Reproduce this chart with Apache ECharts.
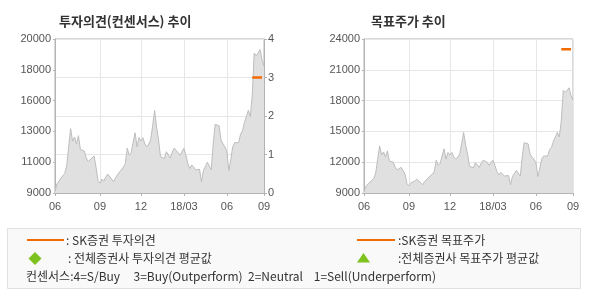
<!DOCTYPE html>
<html><head><meta charset="utf-8">
<script src="https://cdn.jsdelivr.net/npm/echarts@6/dist/echarts.min.js"></script>
<style>html,body{margin:0;padding:0;background:#fff}#c{width:590px;height:300px}</style>
</head><body><div id="c"></div>
<script>
// Stock price (close), sampled along trading days
const priceData = [9100,9650,9700,10050,10100,10400,10950,12300,13600,12700,
13000,12500,13100,12100,12050,12000,11500,11250,11300,11500,
11650,10850,9900,9700,10000,9850,10150,10350,10400,10000,
9800,10100,10200,10500,10650,10850,11100,12200,11700,11900,
12000,13300,12300,12950,12700,12950,12500,12300,12500,12800,
13800,14900,13700,12800,11600,11700,11450,11950,11850,11500,
11900,12200,12050,12000,11700,11800,12200,11700,11100,10750,
11000,10850,10650,10600,10700,9800,10600,10900,11200,11100,
10650,12500,13900,14000,13800,12800,12500,12300,11950,10600,
11400,12300,12600,12550,12600,13200,13450,14050,14000,14900,
14450,16000,19000,18800,19000,19250,18500,18050];
// SK증권 opinion (right axis, 4=S/Buy ... 1=Sell) and target price
const opinionData = priceData.map((_, i) => (i >= 101 && i <= 106) ? 3 : null);
const targetData = priceData.map((_, i) => (i >= 101 && i <= 106) ? 23000 : null);
const categories = priceData.map((_, i) => String(i));
const tickIndex = [0, 23, 44, 66, 88, 107];
const tickLabels = ['06', '09', '12', '18/03', '06', '09'];
const leftTitle = '투자의견(컨센서스) 추이';
const rightTitle = '목표주가 추이';

const isTick = (i) => tickIndex.indexOf(i) >= 0;
const fontNum = 'Liberation Sans, Arial, sans-serif';
const fontKr = '"Noto Sans CJK KR", sans-serif';
const axisCol = '#b4b4b4';
const gridCol = '#e6e6e6';

function xAxis(gi) {
  return {
    type: 'category', gridIndex: gi, data: categories, boundaryGap: false,
    axisLine: {lineStyle: {color: axisCol}},
    axisTick: {show: true, length: 3, interval: (i) => isTick(i), lineStyle: {color: axisCol}},
    axisLabel: {interval: (i) => isTick(i), formatter: (v, i) => tickLabels[tickIndex.indexOf(Number(v))] || '',
      color: '#555', fontSize: 11, fontFamily: fontNum, margin: 8},
    splitLine: {show: true, interval: (i) => isTick(i), lineStyle: {color: gridCol}}
  };
}
const chart = echarts.init(document.getElementById('c'), null, {renderer: 'canvas'});
chart.setOption({
  animation: false,
  title: [
    {text: leftTitle, left: 54, top: 10, textStyle: {fontSize: 13, fontWeight: 'bold', color: '#333', fontFamily: fontKr}},
    {text: rightTitle, left: 366, top: 10, textStyle: {fontSize: 13, fontWeight: 'bold', color: '#333', fontFamily: fontKr}}
  ],
  grid: [
    {left: 55, top: 39, width: 209, height: 154, show: true, borderColor: axisCol, borderWidth: 1, backgroundColor: 'transparent'},
    {left: 364, top: 39, width: 209, height: 154, show: true, borderColor: axisCol, borderWidth: 1, backgroundColor: 'transparent'}
  ],
  xAxis: [xAxis(0), xAxis(1)],
  yAxis: [
    {type: 'value', gridIndex: 0, min: 9000, max: 20000, interval: 2200, position: 'left',
      axisLine: {show: true, lineStyle: {color: axisCol}},
      axisTick: {show: true, length: 2, lineStyle: {color: axisCol}},
      axisLabel: {formatter: (v) => String(Math.round(v / 1000) * 1000), color: '#555', fontSize: 11, fontFamily: fontNum, margin: 4},
      splitLine: {show: false}},
    {type: 'value', gridIndex: 0, min: 0, max: 4, interval: 1, position: 'right',
      axisLine: {show: true, lineStyle: {color: axisCol}},
      axisTick: {show: true, length: 3, lineStyle: {color: axisCol}},
      axisLabel: {color: '#555', fontSize: 11, fontFamily: fontNum, margin: 4},
      splitLine: {show: true, lineStyle: {color: gridCol}}},
    {type: 'value', gridIndex: 1, min: 9000, max: 24000, interval: 3000, position: 'left',
      axisLine: {show: true, lineStyle: {color: axisCol}},
      axisTick: {show: true, length: 2, lineStyle: {color: axisCol}},
      axisLabel: {formatter: (v) => String(v), color: '#555', fontSize: 11, fontFamily: fontNum, margin: 4},
      splitLine: {show: true, lineStyle: {color: gridCol}}}
  ],
  series: [
    {type: 'line', xAxisIndex: 0, yAxisIndex: 0, data: priceData, symbol: 'none',
      lineStyle: {color: '#bdbdbd', width: 1}, areaStyle: {color: '#e0e0e0', opacity: 1}, z: 1},
    {type: 'line', xAxisIndex: 0, yAxisIndex: 1, data: opinionData, symbol: 'none',
      lineStyle: {color: '#f26b00', width: 2.5}, z: 5},
    {type: 'line', xAxisIndex: 1, yAxisIndex: 2, data: priceData, symbol: 'none',
      lineStyle: {color: '#bdbdbd', width: 1}, areaStyle: {color: '#e0e0e0', opacity: 1}, z: 1},
    {type: 'line', xAxisIndex: 1, yAxisIndex: 2, data: targetData, symbol: 'none',
      lineStyle: {color: '#f26b00', width: 2.5}, z: 5}
  ],
  graphic: [
    {type: 'rect', shape: {x: 7.5, y: 228.5, width: 573, height: 60}, style: {fill: '#f9f9f9', stroke: '#e0e0e0', lineWidth: 1}},
    {type: 'line', shape: {x1: 27, y1: 240, x2: 64, y2: 240}, style: {stroke: '#f26b00', lineWidth: 2}},
    {type: 'text', x: 66, y: 240, style: {text: ': SK증권 투자의견', fill: '#333', font: '12px "Noto Sans CJK KR", sans-serif', verticalAlign: 'middle'}},
    {type: 'polygon', shape: {points: [[35, 252], [41.5, 258.5], [35, 265], [28.5, 258.5]]}, style: {fill: '#7dc21e'}},
    {type: 'text', x: 68, y: 258.5, style: {text: ': 전체증권사 투자의견 평균값', fill: '#333', font: '12px "Noto Sans CJK KR", sans-serif', verticalAlign: 'middle'}},
    {type: 'text', x: 26, y: 276.5, style: {text: '컨센서스:4=S/Buy     3=Buy(Outperform)  2=Neutral    1=Sell(Underperform)', fill: '#333', font: '12px "Noto Sans CJK KR", sans-serif', verticalAlign: 'middle'}},
    {type: 'line', shape: {x1: 357, y1: 240, x2: 395, y2: 240}, style: {stroke: '#f26b00', lineWidth: 2}},
    {type: 'text', x: 398, y: 240, style: {text: ':SK증권 목표주가', fill: '#333', font: '12px "Noto Sans CJK KR", sans-serif', verticalAlign: 'middle'}},
    {type: 'polygon', shape: {points: [[363.5, 253], [370, 262.5], [357, 262.5]]}, style: {fill: '#7dc21e'}},
    {type: 'text', x: 398, y: 258.5, style: {text: ':전체증권사 목표주가 평균값', fill: '#333', font: '12px "Noto Sans CJK KR", sans-serif', verticalAlign: 'middle'}}
  ]
});
</script></body></html>
